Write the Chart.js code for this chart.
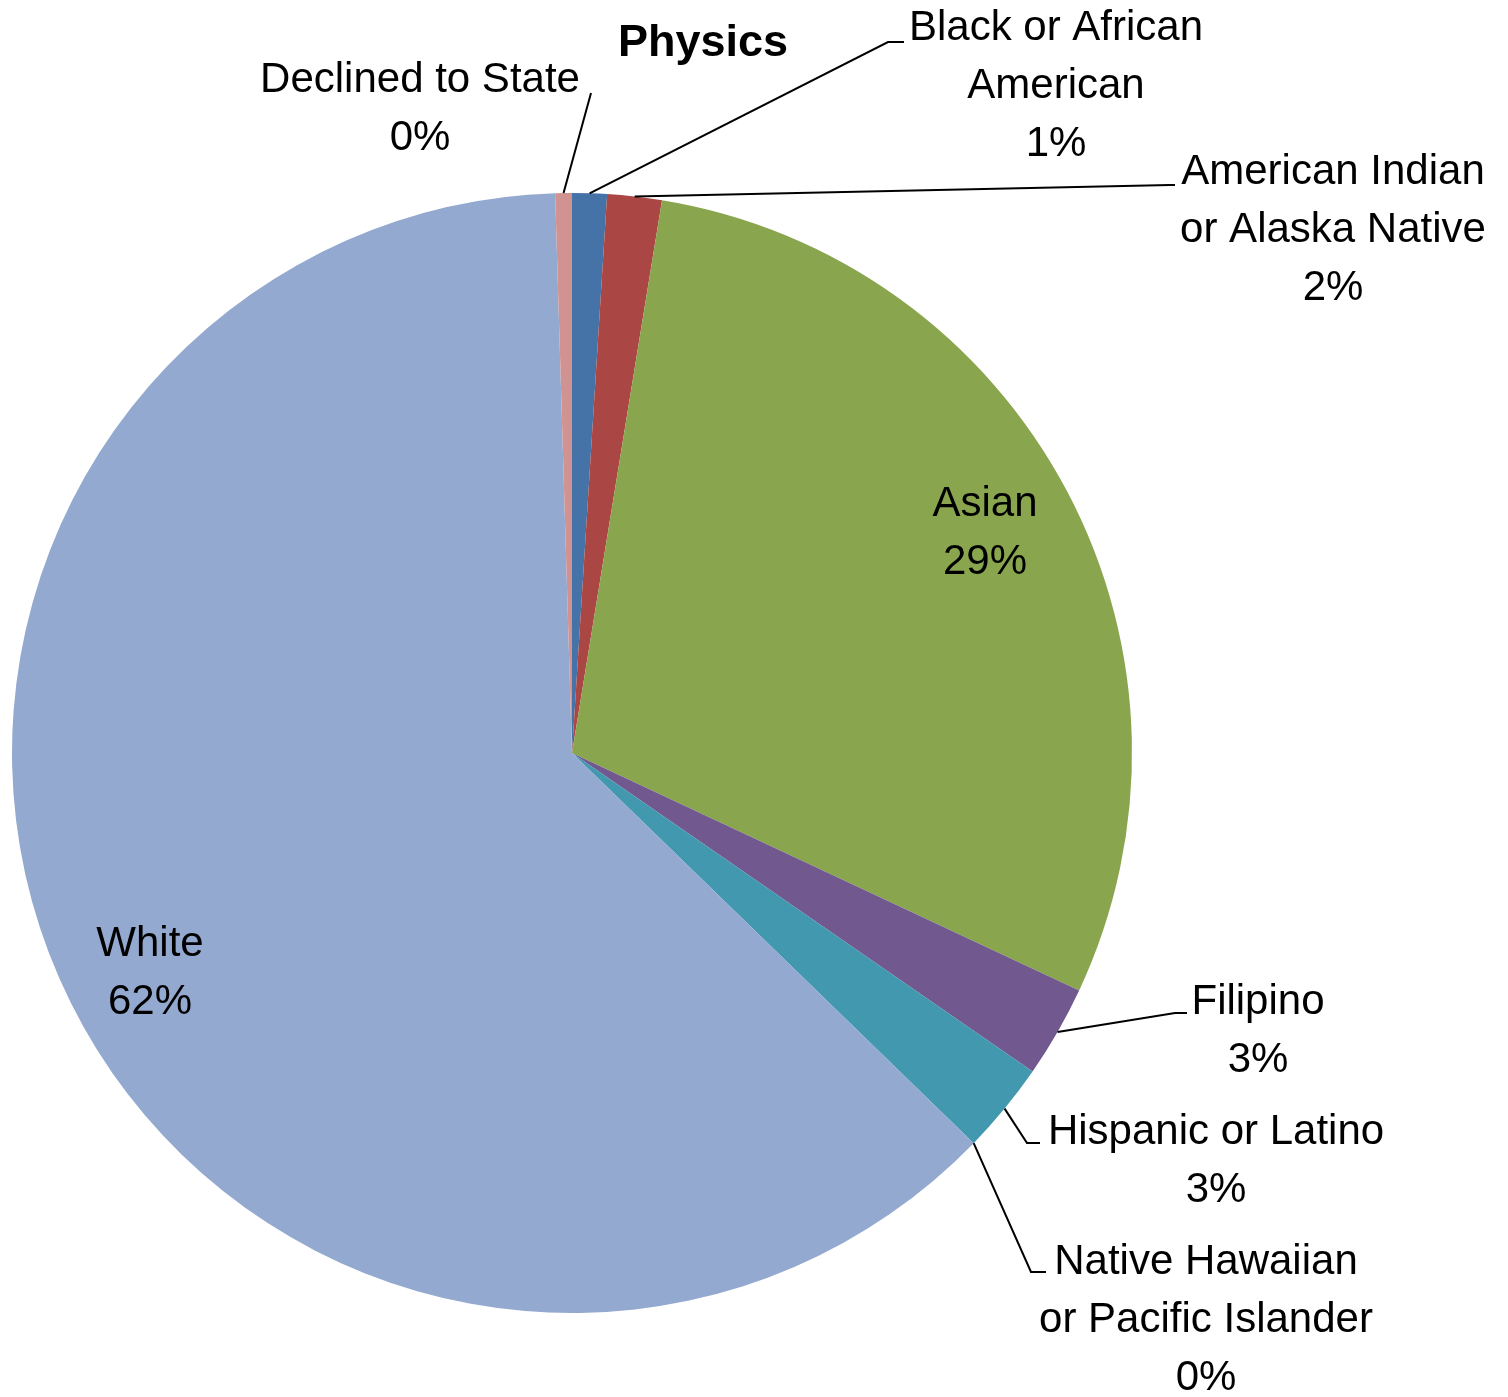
<!DOCTYPE html>
<html>
<head>
<meta charset="utf-8">
<script src="https://cdn.jsdelivr.net/npm/chart.js@4"></script>
<style>
  html, body { margin: 0; padding: 0; background: #ffffff; }
  #wrap { width: 1508px; height: 1397px; position: relative; }
</style>
</head>
<body>
<div id="wrap"><canvas id="c" width="1508" height="1397"></canvas></div>
<script>
// ---- data ----
const chartTitle = "Physics";
const categories = [
  "Black or African American",
  "American Indian or Alaska Native",
  "Asian",
  "Filipino",
  "Hispanic or Latino",
  "Native Hawaiian or Pacific Islander",
  "White",
  "Declined to State"
];
const labelLines = [
  ["Black or African", "American"],
  ["American Indian", "or Alaska Native"],
  ["Asian"],
  ["Filipino"],
  ["Hispanic or Latino"],
  ["Native Hawaiian", "or Pacific Islander"],
  ["White"],
  ["Declined to State"]
];
const shares = [1.0, 1.57, 29.4, 2.66, 2.64, 0, 62.25, 0.48];
const sliceColors = ["#4572A7", "#AA4643", "#89A54E", "#71588F", "#4198AF", "#DB843D", "#93A9CF", "#D19392"];

// ---- label layout (text block centre, elbow point) ----
const labelLayout = [
  { x: 1056, y: 86,   elbow: [888, 42],    end: [904, 42] },
  { x: 1333, y: 230,  elbow: [1170, 185],  end: [1175, 185] },
  { inside: true, x: 985, y: 533 },
  { x: 1258, y: 1031, elbow: [1175, 1013], end: [1187, 1013] },
  { x: 1216, y: 1161, elbow: [1027, 1143], end: [1040, 1143] },
  { x: 1206, y: 1320, elbow: [1031, 1272], end: [1046, 1272] },
  { inside: true, x: 150, y: 973 },
  { x: 420,  y: 109,  elbow: [591, 93],    end: [591, 93] }
];

const FONT = '42px "Liberation Sans", Arial, sans-serif';
const LINE_H = 58;

const labelPlugin = {
  id: 'pieLabels',
  afterDraw(chart) {
    const ctx = chart.ctx;
    const meta = chart.getDatasetMeta(0);
    const total = shares.reduce((a, b) => a + b, 0);
    ctx.save();
    ctx.fillStyle = '#000';
    ctx.font = 'bold 45px "Liberation Sans", Arial, sans-serif';
    ctx.textAlign = 'center';
    ctx.textBaseline = 'middle';
    ctx.fillText(chartTitle, 703, 44);

    ctx.font = FONT;
    meta.data.forEach((arc, i) => {
      const p = arc.getProps(['x', 'y', 'startAngle', 'endAngle', 'outerRadius'], true);
      const mid = (p.startAngle + p.endAngle) / 2;
      const lay = labelLayout[i];
      const lines = labelLines[i].concat([Math.round(shares[i] / total * 100) + '%']);
      if (!lay.inside) {
        const sx = p.x + Math.cos(mid) * p.outerRadius;
        const sy = p.y + Math.sin(mid) * p.outerRadius;
        ctx.strokeStyle = '#000';
        ctx.lineWidth = 2;
        ctx.beginPath();
        ctx.moveTo(sx, sy);
        ctx.lineTo(lay.elbow[0], lay.elbow[1]);
        ctx.lineTo(lay.end[0], lay.end[1]);
        ctx.stroke();
      }
      ctx.fillStyle = '#000';
      const n = lines.length;
      lines.forEach((t, k) => {
        ctx.fillText(t, lay.x, lay.y + (k - (n - 1) / 2) * LINE_H);
      });
    });
    ctx.restore();
  }
};

new Chart(document.getElementById('c'), {
  type: 'pie',
  data: {
    labels: categories,
    datasets: [{
      data: shares,
      backgroundColor: sliceColors,
      borderWidth: 0
    }]
  },
  options: {
    responsive: false,
    animation: false,
    layout: { padding: { left: 12, right: 376, top: 193, bottom: 84 } },
    plugins: {
      legend: { display: false },
      tooltip: { enabled: false },
      title: { display: false }
    }
  },
  plugins: [labelPlugin]
});
</script>
</body>
</html>
